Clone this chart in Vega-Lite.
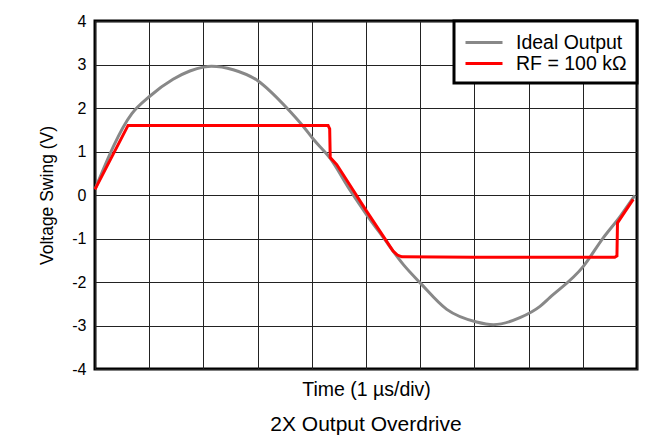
{
  "$schema": "https://vega.github.io/schema/vega-lite/v6.json",
  "autosize": {"type": "none"},
  "width": 542,
  "height": 348,
  "padding": {"left": 95, "top": 21, "right": 24, "bottom": 76},
  "background": "white",
  "title": {"text": "2X Output Overdrive", "orient": "bottom", "font": "Liberation Sans", "fontSize": 21, "fontWeight": "normal", "color": "black", "offset": 15},
  "config": {
    "font": "Liberation Sans",
    "view": {"stroke": "black", "strokeWidth": 3},
    "axis": {"domain": false, "ticks": false, "gridColor": "#222222", "gridWidth": 1, "gridOpacity": 1, "labelFont": "Liberation Sans", "titleFont": "Liberation Sans", "labelColor": "black", "titleColor": "black", "titleFontWeight": "normal"}
  },
  "datasets": {
    "curves": [
      {"series": "Ideal Output", "t": 0, "v": 0.13},
      {"series": "Ideal Output", "t": 0.68, "v": 1.87},
      {"series": "Ideal Output", "t": 1.01, "v": 2.27},
      {"series": "Ideal Output", "t": 1.44, "v": 2.66},
      {"series": "Ideal Output", "t": 1.75, "v": 2.85},
      {"series": "Ideal Output", "t": 2.0, "v": 2.94},
      {"series": "Ideal Output", "t": 2.15, "v": 2.96},
      {"series": "Ideal Output", "t": 2.55, "v": 2.88},
      {"series": "Ideal Output", "t": 3.01, "v": 2.62},
      {"series": "Ideal Output", "t": 3.23, "v": 2.39},
      {"series": "Ideal Output", "t": 3.54, "v": 2.0},
      {"series": "Ideal Output", "t": 3.84, "v": 1.58},
      {"series": "Ideal Output", "t": 4.03, "v": 1.28},
      {"series": "Ideal Output", "t": 4.34, "v": 0.84},
      {"series": "Ideal Output", "t": 4.70, "v": 0.12},
      {"series": "Ideal Output", "t": 5.01, "v": -0.45},
      {"series": "Ideal Output", "t": 5.32, "v": -0.98},
      {"series": "Ideal Output", "t": 5.69, "v": -1.60},
      {"series": "Ideal Output", "t": 6.0, "v": -2.02},
      {"series": "Ideal Output", "t": 6.49, "v": -2.63},
      {"series": "Ideal Output", "t": 7.04, "v": -2.92},
      {"series": "Ideal Output", "t": 7.35, "v": -2.98},
      {"series": "Ideal Output", "t": 7.84, "v": -2.82},
      {"series": "Ideal Output", "t": 8.21, "v": -2.56},
      {"series": "Ideal Output", "t": 8.39, "v": -2.36},
      {"series": "Ideal Output", "t": 9.01, "v": -1.64},
      {"series": "Ideal Output", "t": 9.38, "v": -0.98},
      {"series": "Ideal Output", "t": 9.69, "v": -0.49},
      {"series": "Ideal Output", "t": 9.96, "v": -0.01},
      {"series": "RF = 100 kΩ", "t": 0, "v": 0.13},
      {"series": "RF = 100 kΩ", "t": 0.61, "v": 1.60},
      {"series": "RF = 100 kΩ", "t": 2.0, "v": 1.60},
      {"series": "RF = 100 kΩ", "t": 4.30, "v": 1.60},
      {"series": "RF = 100 kΩ", "t": 4.33, "v": 1.52},
      {"series": "RF = 100 kΩ", "t": 4.34, "v": 0.86},
      {"series": "RF = 100 kΩ", "t": 4.46, "v": 0.70},
      {"series": "RF = 100 kΩ", "t": 5.01, "v": -0.37},
      {"series": "RF = 100 kΩ", "t": 5.32, "v": -0.95},
      {"series": "RF = 100 kΩ", "t": 5.50, "v": -1.29},
      {"series": "RF = 100 kΩ", "t": 5.58, "v": -1.38},
      {"series": "RF = 100 kΩ", "t": 5.66, "v": -1.42},
      {"series": "RF = 100 kΩ", "t": 7.0, "v": -1.43},
      {"series": "RF = 100 kΩ", "t": 9.59, "v": -1.43},
      {"series": "RF = 100 kΩ", "t": 9.63, "v": -1.40},
      {"series": "RF = 100 kΩ", "t": 9.64, "v": -0.64},
      {"series": "RF = 100 kΩ", "t": 9.93, "v": -0.10}
    ]
  },
  "data": {"name": "curves"},
  "encoding": {
    "x": {"field": "t", "type": "quantitative", "scale": {"domain": [0, 10], "nice": false}, "axis": {"values": [0,1,2,3,4,5,6,7,8,9,10], "labels": false, "title": "Time (1 µs/div)", "titleFontSize": 19.5, "titlePadding": 11}},
    "y": {"field": "v", "type": "quantitative", "scale": {"domain": [-4, 4], "nice": false}, "axis": {"values": [-4,-3,-2,-1,0,1,2,3,4], "labelExpr": "'' + datum.value", "labelFontSize": 16, "labelPadding": 9, "title": "Voltage Swing (V)", "titleFontSize": 17.5, "titlePadding": 15}},
    "color": {"field": "series", "type": "nominal", "scale": {"domain": ["Ideal Output", "RF = 100 kΩ"], "range": ["#888888", "#ff0000"]},
      "legend": {"title": null, "orient": "top-right", "offset": 0, "fillColor": "white", "strokeColor": "black", "padding": 10, "labelFontSize": 19.5, "labelColor": "black", "symbolType": "M-1,0L2.7,0", "symbolSize": 400, "symbolStrokeWidth": 3, "rowPadding": 0, "labelOffset": 29,
        "encode": {"legend": {"update": {"strokeWidth": {"value": 3}}}}}}
  },
  "layer": [
    {"transform": [{"filter": "datum.series == 'Ideal Output'"}], "mark": {"type": "line", "strokeWidth": 3, "interpolate": "monotone"}},
    {"transform": [{"filter": "datum.series != 'Ideal Output'"}], "mark": {"type": "line", "strokeWidth": 3, "interpolate": "linear"}}
  ]
}
